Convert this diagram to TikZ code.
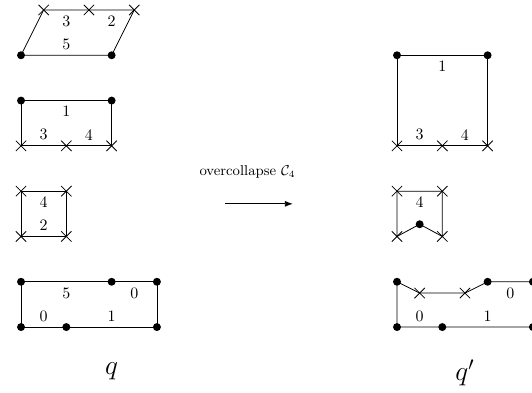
\documentclass[tikz,border=0pt]{standalone}
\usepackage{amsmath}
\usepackage{tikz}
\usetikzlibrary{arrows.meta,positioning,shapes.misc}
\tikzset{dot/.style={circle,fill=black,inner sep=0pt,minimum size=5pt},cross/.style={cross out,draw=black,inner sep=0pt,minimum size=6pt,line width=.5pt},edge/.style={line width=.5pt},lab/.style={inner sep=.3333em},flow/.style={-{Latex[length=5pt]},line width=.5pt}}

\begin{document}
\begin{tikzpicture}
      \useasboundingbox (-0.464,-1.435) rectangle (11.28,7.22);
      % q: parallelogram
      \node[dot](q1a) at (0,6){};\node[dot](q1b) at (2,6){};
      \node[cross](q1c) at (2.5,7){};\node[cross](q1d) at (1.5,7){};\node[cross](q1e) at (0.5,7){};
      \draw[edge](q1a.center)--node[lab,above](q1l5){5}(q1b.center)--(q1c.center)--node[lab,below](q1l2){2}(q1d.center)--node[lab,below](q1l3){3}(q1e.center)--(q1a.center);
      % q: rectangle
      \node[dot](q2a) at (0,5){};\node[dot](q2b) at (2,5){};
      \node[cross](q2c) at (2,4){};\node[cross](q2d) at (1,4){};\node[cross](q2e) at (0,4){};
      \draw[edge](q2a.center)--node[lab,below](q2l1){1}(q2b.center)--(q2c.center)--node[lab,above](q2l4){4}(q2d.center)--node[lab,above](q2l3){3}(q2e.center)--(q2a.center);
      % q: square
      \node[cross](q3a) at (0,3){};\node[cross](q3b) at (1,3){};
      \node[cross](q3c) at (1,2){};\node[cross](q3d) at (0,2){};
      \draw[edge](q3a.center)--node[lab,below](q3l4){4}(q3b.center)--(q3c.center)--node[lab,above](q3l2){2}(q3d.center)--(q3a.center);
      % q: long rectangle
      \node[dot](q4a) at (0,1){};\node[dot](q4b) at (2,1){};\node[dot](q4c) at (3,1){};
      \node[dot](q4d) at (3,0){};\node[dot](q4e) at (1,0){};\node[dot](q4f) at (0,0){};
      \draw[edge](q4a.center)--node[lab,below](q4l5){5}(q4b.center)--node[lab,below](q4l0){0}(q4c.center)--(q4d.center)--node[lab,above](q4l1){1}(q4e.center)--node[lab,above](q4l0b){0}(q4f.center)--(q4a.center);
      \node[font=\LARGE](q) at (2,-0.98){$q$};
      % arrow
      \coordinate(arrS) at (4.5,2.72);\coordinate(arrE) at (6,2.72);
      \draw[flow](arrS)--(arrE);
      \node[font=\small](oc) at (5,3.42){overcollapse $\mathcal{C}_4$};
      % q': square
      \node[dot](r1a) at (8.3,6){};\node[dot](r1b) at (10.3,6){};
      \node[cross](r1c) at (10.3,4){};\node[cross](r1d) at (9.3,4){};\node[cross](r1e) at (8.3,4){};
      \draw[edge](r1a.center)--node[lab,below](r1l1){1}(r1b.center)--(r1c.center)--node[lab,above](r1l4){4}(r1d.center)--node[lab,above](r1l3){3}(r1e.center)--(r1a.center);
      % q': square with dot
      \node[cross](r2a) at (8.3,3){};\node[cross](r2b) at (9.3,3){};
      \node[cross](r2c) at (9.3,2){};\node[dot](r2d) at (8.8,2.27){};\node[cross](r2e) at (8.3,2){};
      \draw[edge](r2a.center)--node[lab,below](r2l4){4}(r2b.center)--(r2c.center)--(r2d.center)--(r2e.center)--(r2a.center);
      % q': long rectangle
      \node[dot](r3a) at (8.3,1){};\node[cross](r3b) at (8.8,0.75){};\node[cross](r3c) at (9.8,0.75){};
      \node[dot](r3d) at (10.3,1){};\node[dot](r3e) at (11.3,1){};
      \node[dot](r3f) at (11.3,0){};\node[dot](r3g) at (9.3,0){};\node[dot](r3h) at (8.3,0){};
      \draw[edge](r3a.center)--(r3b.center)--(r3c.center)--(r3d.center)--node[lab,below](r3l0){0}(r3e.center)--(r3f.center)--node[lab,above](r3l1){1}(r3g.center)--node[lab,above](r3l0b){0}(r3h.center)--(r3a.center);
      \node[font=\LARGE](qp) at (9.8,-1.02){$q'$};
    \end{tikzpicture}
\end{document}
